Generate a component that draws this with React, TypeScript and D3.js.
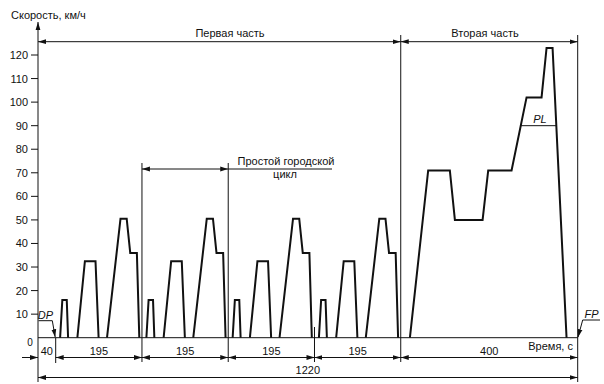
import React from "react";
import * as d3 from "d3";

// ---- data ----
const speedTicks = [10, 20, 30, 40, 50, 60, 70, 80, 90, 100, 110, 120];
const cycleStarts = [40, 235, 430, 625];
const eceTimes = [0, 10, 15, 25, 28, 49, 66, 90, 97, 116, 146.5, 160.5, 168.5, 183.5, 189, 195];
const eceSpeeds = [0, 0, 16, 16, 0, 0, 32.5, 32.5, 0, 0, 50.5, 50.5, 36, 36, 0, 0];
const eudcStart = 820;
const eudcTimes = [0, 20.7, 62, 111, 122.4, 185, 197.7, 250.5, 284.4, 318.3, 329.6, 343.2, 374.8, 400];
const eudcSpeeds = [0, 0, 71, 71, 50, 50, 71, 71, 102, 102, 123, 123, 0, 0];
const dimBounds = [40, 235, 430, 625, 820, 1220];
const dimLabels = ["195", "195", "195", "195", "400"];
const totalTime = 1220;
const plSpeed = 90;

const W = 604;
const H = 384;
const FONT = "'Liberation Sans', Arial, Helvetica, sans-serif";

export default function App() {
  const x = d3.scaleLinear().domain([0, totalTime]).range([38, 577.7]);
  const y = d3.scaleLinear().domain([0, 120]).range([337.7, 55]);

  // Build full profile points
  const pts: [number, number][] = [];
  cycleStarts.forEach((s) => {
    eceTimes.forEach((t, i) => pts.push([s + t, eceSpeeds[i]]));
  });
  eudcTimes.forEach((t, i) => pts.push([eudcStart + t, eudcSpeeds[i]]));

  // group into polylines of non-idle parts
  const groups: [number, number][][] = [];
  let cur: [number, number][] | null = null;
  for (let i = 0; i < pts.length - 1; i++) {
    const a = pts[i], b = pts[i + 1];
    if (a[1] !== 0 || b[1] !== 0) {
      if (!cur) { cur = [a]; groups.push(cur); }
      cur.push(b);
    } else {
      cur = null;
    }
  }
  const line = d3.line<[number, number]>().x((d) => x(d[0])).y((d) => y(d[1]));

  // PL crossings on EUDC
  const eudcPts = eudcTimes.map((t, i) => [eudcStart + t, eudcSpeeds[i]] as [number, number]);
  const crossings: number[] = [];
  for (let i = 0; i < eudcPts.length - 1; i++) {
    const [t0, v0] = eudcPts[i];
    const [t1, v1] = eudcPts[i + 1];
    if ((v0 - plSpeed) * (v1 - plSpeed) < 0) {
      crossings.push(t0 + ((plSpeed - v0) / (v1 - v0)) * (t1 - t0));
    }
  }
  const plX0 = x(crossings[0]);
  const plX1 = x(crossings[crossings.length - 1]);

  const thin = { stroke: "#111", strokeWidth: 1, fill: "none" } as const;
  const txt = { fontFamily: FONT, fontSize: 11, fill: "#111" } as const;

  const rowY1 = 357.5;
  const rowY2 = 377.5;
  const topY = 41.7;
  const cityY = 169;

  return (
    <svg
      width={W}
      height={H}
      style={{ position: "absolute", left: 0, top: 0, background: "#fff" }}
    >
      <defs>
        <marker
          id="arr"
          viewBox="0 0 8 6"
          refX={8}
          refY={3}
          markerWidth={8}
          markerHeight={6}
          markerUnits="userSpaceOnUse"
          orient="auto-start-reverse"
        >
          <path d="M0,0.6 L8,3 L0,5.4 Z" fill="#111" />
        </marker>
      </defs>
      <rect width={W} height={H} fill="#fff" />

      {/* y axis */}
      <line x1={x(0)} x2={x(0)} y1={382} y2={22} {...thin} markerEnd="url(#arr)" />
      <text x={11} y={19} {...txt}>Скорость, км/ч</text>
      {speedTicks.map((v) => (
        <g key={v}>
          <line x1={31} x2={x(0)} y1={y(v)} y2={y(v)} {...thin} />
          <text x={28} y={y(v) + 4} textAnchor="end" {...txt}>{v}</text>
        </g>
      ))}
      <text x={30} y={346} textAnchor="middle" {...txt} fontSize={10}>0</text>

      {/* baseline */}
      <line x1={x(0)} x2={x(totalTime)} y1={y(0)} y2={y(0)} {...thin} />

      {/* vertical boundary lines */}
      <line x1={x(40)} x2={x(40)} y1={y(0)} y2={363} {...thin} />
      <line x1={x(235)} x2={x(235)} y1={163} y2={362} {...thin} />
      <line x1={x(430)} x2={x(430)} y1={163} y2={362} {...thin} />
      <line x1={x(625)} x2={x(625)} y1={327} y2={362} {...thin} />
      <line x1={x(820)} x2={x(820)} y1={35} y2={362} {...thin} />
      <line x1={x(totalTime)} x2={x(totalTime)} y1={35} y2={382} {...thin} />

      {/* top dimension lines */}
      <line x1={x(0)} x2={x(820)} y1={topY} y2={topY} {...thin} markerStart="url(#arr)" markerEnd="url(#arr)" />
      <line x1={x(820)} x2={x(totalTime)} y1={topY} y2={topY} {...thin} markerStart="url(#arr)" markerEnd="url(#arr)" />
      <text x={230} y={37} textAnchor="middle" {...txt}>Первая часть</text>
      <text x={485} y={37} textAnchor="middle" {...txt}>Вторая часть</text>

      {/* simple urban cycle dimension */}
      <line x1={x(235)} x2={x(430)} y1={cityY} y2={cityY} {...thin} markerStart="url(#arr)" markerEnd="url(#arr)" />
      <line x1={x(430)} x2={332} y1={cityY} y2={cityY} {...thin} />
      <text x={286} y={165} textAnchor="middle" {...txt}>Простой городской</text>
      <text x={285} y={178} textAnchor="middle" {...txt}>цикл</text>

      {/* speed profile */}
      {groups.map((g, i) => (
        <path
          key={i}
          d={line(g) || ""}
          fill="none"
          stroke="#111"
          strokeWidth={2}
          strokeLinejoin="miter"
        />
      ))}

      {/* PL */}
      <line x1={plX0} x2={plX1} y1={y(plSpeed)} y2={y(plSpeed)} {...thin} />
      <text x={540} y={123} textAnchor="middle" {...txt} fontStyle="italic">PL</text>

      {/* DP / FP */}
      <text x={45.5} y={319} textAnchor="middle" {...txt} fontStyle="italic">DP</text>
      <line x1={38.5} x2={52.3} y1={320.7} y2={320.7} {...thin} />
      <line x1={52.3} x2={x(40) - 0.5} y1={320.7} y2={y(0) - 0.5} {...thin} markerEnd="url(#arr)" />
      <text x={591.5} y={318} textAnchor="middle" {...txt} fontStyle="italic">FP</text>
      <line x1={582.7} x2={600} y1={320} y2={320} {...thin} />
      <line x1={582.7} x2={x(totalTime) + 0.3} y1={320} y2={y(0) - 0.5} {...thin} markerEnd="url(#arr)" />

      {/* x axis title */}
      <text x={573} y={350} textAnchor="end" {...txt}>Время, с</text>

      {/* bottom dimension row 1 */}
      <line x1={22} x2={x(0)} y1={rowY1} y2={rowY1} {...thin} markerEnd="url(#arr)" />
      <text x={x(20)} y={355} textAnchor="middle" {...txt}>40</text>
      {dimLabels.map((lab, i) => {
        const a = dimBounds[i];
        const b = dimBounds[i + 1];
        return (
          <g key={i}>
            <line x1={x(a)} x2={x(b)} y1={rowY1} y2={rowY1} {...thin} markerStart="url(#arr)" markerEnd="url(#arr)" />
            <text x={(x(a) + x(b)) / 2} y={355} textAnchor="middle" {...txt}>{lab}</text>
          </g>
        );
      })}

      {/* bottom dimension row 2 */}
      <line x1={x(0)} x2={x(totalTime)} y1={rowY2} y2={rowY2} {...thin} markerStart="url(#arr)" markerEnd="url(#arr)" />
      <text x={(x(0) + x(totalTime)) / 2} y={373.5} textAnchor="middle" {...txt}>{String(totalTime)}</text>
    </svg>
  );
}
